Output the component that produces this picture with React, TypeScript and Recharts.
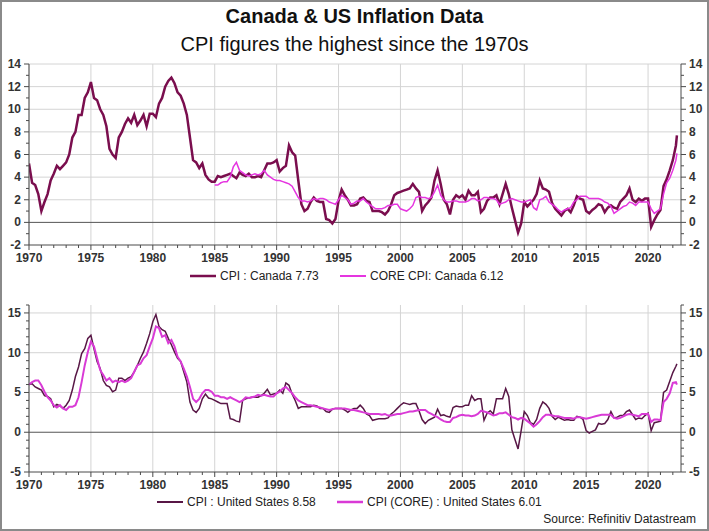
import React from 'react'
import { LineChart, Line, XAxis, YAxis, CartesianGrid, ReferenceLine } from 'recharts'

const FONT = '"Liberation Sans", Arial, sans-serif'

// quarterly readings from 1970 Q1, the last point is May 2022
const START_YEAR = 1970
const LAST_DATE = 2022.33
const X_DOMAIN: [number, number] = [1970, 2022.66]

const yearTicks = Array.from({ length: 53 }, (_, i) => 1970 + i)
const majorYears = [1970, 1975, 1980, 1985, 1990, 1995, 2000, 2005, 2010, 2015, 2020]

const caTicks = [-2, -1, 0, 1, 2, 3, 4, 5, 6, 7, 8, 9, 10, 11, 12, 13, 14]
const caGrid = [2, 4, 6, 8, 10, 12, 14]
const usTicks = [-5, -4, -3, -2, -1, 0, 1, 2, 3, 4, 5, 6, 7, 8, 9, 10, 11, 12, 13, 14, 15, 16]
const usGrid = [5, 10, 15]

const caCpi = [
  5.2, 3.5, 3.3, 2.5, 1.0, 1.8, 2.5, 3.7, 4.3, 5.0, 4.7, 5.0, 5.3, 6.0, 7.5, 8.0,
  9.5, 9.5, 11.0, 11.5, 12.4, 11.0, 10.8, 10.0, 9.5, 8.5, 6.5, 6.0, 5.7, 7.5, 8.0, 8.7,
  9.2, 8.8, 9.5, 8.6, 9.0, 9.5, 8.5, 9.6, 9.6, 9.3, 10.5, 11.0, 12.0, 12.5, 12.8, 12.3,
  11.5, 11.2, 10.5, 9.5, 7.5, 5.5, 5.3, 4.8, 5.2, 4.2, 3.8, 3.6, 3.6, 4.1, 4.0, 4.1,
  4.2, 4.3, 4.1, 3.9, 4.4, 4.2, 4.1, 4.3, 4.0, 4.0, 4.1, 4.0, 4.6, 5.2, 5.2, 5.3,
  5.5, 4.5, 4.8, 5.0, 6.8, 6.2, 5.9, 3.7, 1.6, 1.0, 1.2, 1.8, 2.2, 1.9, 1.8, 1.8,
  0.3, 0.2, -0.1, 0.3, 1.9, 2.9, 2.4, 2.0, 1.5, 1.5, 1.6, 2.1, 2.2, 1.9, 1.8, 1.0,
  1.0, 1.0, 0.9, 0.7, 1.0, 1.6, 2.4, 2.6, 2.7, 2.8, 2.9, 3.0, 3.4, 3.0, 2.7, 1.0,
  1.5, 1.8, 2.2, 3.7, 4.6, 3.4, 2.0, 1.6, 0.7, 2.0, 2.4, 2.2, 2.4, 2.0, 2.8, 2.4,
  2.4, 2.7, 0.9, 1.2, 1.9, 2.2, 2.2, 2.4, 1.6, 2.5, 3.4, 2.5, 1.3, 0.2, -0.9, -0.1,
  1.8, 1.4, 1.7, 2.0, 2.5, 3.7, 3.0, 2.9, 2.7, 1.7, 1.2, 0.9, 0.6, 1.0, 1.2, 0.9,
  1.5, 2.3, 2.1, 2.0, 1.0, 0.8, 1.1, 1.3, 1.6, 1.5, 0.9, 1.3, 1.5, 1.3, 1.2, 1.8,
  2.1, 2.4, 3.0, 2.0, 1.8, 2.1, 1.9, 2.1, 2.1, -0.4, 0.2, 0.7, 1.1, 3.2, 3.8, 4.6,
  5.5, 6.8, 7.7,
]

// core series starts in 1985
const CA_CORE_START = 1985
const caCore = [
  3.3, 3.3, 3.5, 3.6, 3.6, 4.0, 4.9, 5.3, 4.6, 4.4, 4.2, 4.1, 4.2, 4.3, 4.2, 4.3,
  4.6, 4.2, 4.0, 3.8, 3.7, 3.7, 3.6, 3.5, 3.4, 3.2, 2.7, 2.2, 1.9, 1.9, 1.8, 1.9,
  2.1, 2.0, 2.1, 2.1, 2.0, 1.8, 1.7, 1.6, 2.0, 2.4, 2.2, 2.0, 1.6, 1.7, 1.9, 1.9,
  2.1, 1.8, 1.6, 1.4, 1.2, 1.2, 1.2, 1.3, 1.5, 1.5, 1.6, 1.6, 1.2, 1.1, 1.0, 1.2,
  1.5, 2.2, 2.3, 2.2, 2.2, 2.1, 2.2, 2.7, 3.3, 2.4, 2.0, 1.8, 1.8, 1.9, 1.9, 1.8,
  1.8, 1.8, 1.9, 2.1, 2.1, 1.9, 2.0, 2.2, 2.2, 2.1, 2.1, 2.0, 1.6, 1.7, 1.8, 2.0,
  2.1, 2.0, 1.9, 1.8, 1.8, 1.9, 2.0, 1.3, 1.1, 2.0, 2.1, 2.3, 1.8, 1.6, 1.4, 1.1,
  0.9, 1.1, 1.2, 1.3, 1.8, 2.0, 2.3, 2.3, 2.3, 2.1, 2.1, 2.1, 2.1, 2.0, 1.8, 1.7,
  1.4, 0.8, 1.0, 1.2, 1.4, 1.5, 1.8, 1.7, 1.5, 1.8, 1.8, 1.8, 1.8, 1.2, 0.8, 1.0,
  1.2, 2.5, 3.5, 3.9, 4.6, 5.5, 6.1,
]

const usCpi = [
  6.0, 6.1, 5.7, 5.5, 5.3, 4.6, 4.5, 4.2, 3.2, 3.5, 3.3, 3.0, 3.4, 4.0, 5.3, 7.0,
  8.2, 9.9, 10.5, 11.8, 12.2, 10.5, 8.9, 8.0, 6.5, 5.9, 5.7, 5.1, 5.3, 6.8, 6.8, 6.5,
  6.8, 7.0, 7.6, 8.4, 9.3, 10.1, 11.2, 12.4, 13.9, 14.8, 13.3, 12.9, 12.7, 11.8, 11.0, 10.1,
  9.3, 8.9, 7.6, 6.3, 3.8, 2.8, 2.5, 3.0, 4.2, 4.8, 4.3, 4.2, 4.0, 3.8, 3.6, 3.6,
  3.6, 1.7, 1.6, 1.4, 1.3, 4.0, 4.2, 4.3, 4.4, 4.4, 4.4, 4.6, 4.9, 5.4, 4.7, 4.8,
  4.9, 5.3, 4.9, 6.2, 5.9, 4.8, 4.0, 3.0, 3.2, 3.2, 3.2, 3.2, 3.4, 3.3, 3.0, 3.0,
  2.6, 2.5, 2.9, 3.0, 3.0, 3.0, 2.8, 2.5, 2.8, 3.0, 3.0, 3.4, 3.0, 2.3, 2.1, 1.5,
  1.6, 1.7, 1.7, 1.7, 1.8, 2.3, 2.6, 3.0, 3.4, 3.7, 3.6, 3.5, 3.6, 3.6, 2.7, 1.6,
  1.1, 1.5, 1.7, 1.9, 2.9, 2.1, 2.2, 2.0, 1.9, 3.1, 3.3, 3.2, 3.2, 3.4, 3.4, 4.6,
  4.0, 4.2, 4.2, 1.5, 2.4, 2.7, 2.3, 4.2, 4.2, 4.2, 5.5, 4.5, 0.3, -0.9, -2.1, 0.2,
  2.6, 2.1, 1.2, 1.0, 1.6, 3.0, 3.8, 3.5, 3.0, 2.0, 1.6, 1.9, 1.7, 1.5, 1.6, 1.5,
  1.5, 2.0, 1.9, 1.6, 0.2, -0.1, 0.1, 0.3, 1.1, 1.0, 1.1, 1.6, 2.6, 1.8, 1.9, 2.1,
  2.1, 2.6, 2.8, 2.2, 1.6, 1.8, 1.7, 2.1, 2.4, 0.2, 1.2, 1.3, 1.4, 5.0, 5.3, 6.4,
  7.5, 8.3, 8.6,
]

const usCore = [
  6.0, 6.3, 6.5, 6.5, 5.9, 5.1, 4.4, 4.0, 3.4, 3.1, 3.4, 3.0, 2.8, 3.2, 3.2, 3.4,
  4.4, 6.3, 8.4, 10.1, 11.4, 10.8, 9.3, 7.8, 7.2, 6.5, 6.8, 6.3, 6.5, 6.3, 6.5, 6.3,
  6.5, 6.8, 7.6, 8.4, 8.6, 9.3, 9.7, 10.8, 11.8, 13.3, 13.1, 12.0, 12.2, 11.2, 11.6, 10.8,
  9.5, 8.9, 8.0, 7.0, 5.7, 4.2, 3.8, 4.2, 4.9, 5.3, 5.3, 5.1, 4.6, 4.6, 4.4, 4.4,
  4.2, 4.4, 4.2, 4.0, 3.8, 4.0, 4.4, 4.3, 4.4, 4.5, 4.7, 4.6, 4.7, 4.6, 4.5, 4.5,
  4.9, 5.1, 5.5, 5.7, 5.3, 4.9, 4.4, 4.0, 3.8, 3.6, 3.4, 3.4, 3.3, 3.2, 3.1, 3.0,
  2.9, 2.8, 2.9, 3.0, 3.0, 3.0, 3.0, 2.9, 2.8, 2.8, 2.7, 2.6, 2.5, 2.4, 2.3, 2.3,
  2.3, 2.3, 2.2, 2.3, 2.1, 2.1, 2.2, 2.3, 2.3, 2.4, 2.5, 2.6, 2.6, 2.7, 2.8, 2.8,
  2.8, 2.5, 2.3, 2.1, 1.9, 1.6, 1.4, 1.3, 1.3, 1.8, 1.9, 2.1, 2.2, 2.1, 2.1, 2.0,
  2.1, 2.3, 2.7, 2.6, 2.5, 2.3, 2.1, 2.2, 2.4, 2.4, 2.5, 2.2, 1.9, 1.8, 1.6, 1.8,
  1.7, 1.4, 1.1, 0.7, 1.0, 1.4, 1.9, 2.2, 2.2, 2.1, 2.0, 2.0, 1.9, 1.8, 1.8, 1.8,
  1.7, 1.9, 1.9, 1.8, 1.7, 1.8, 1.9, 2.0, 2.1, 2.2, 2.2, 2.2, 2.2, 1.8, 1.7, 1.8,
  2.0, 2.2, 2.3, 2.2, 2.1, 2.0, 2.3, 2.3, 2.3, 1.3, 1.6, 1.6, 1.5, 3.8, 4.2, 4.9,
  6.2, 6.3, 6.0,
]

const dateAt = (i: number, n: number) => (i === n - 1 ? LAST_DATE : START_YEAR + i / 4)

const caPad = (CA_CORE_START - START_YEAR) * 4
const caRows = caCpi.map((v, i) => ({
  t: dateAt(i, caCpi.length),
  cpi: v,
  core: i >= caPad ? caCore[i - caPad] : null,
}))
const usRows = usCpi.map((v, i) => ({ t: dateAt(i, usCpi.length), cpi: v, core: usCore[i] }))

const AXIS = '#4a4a4a'
const labelStyle = { fontFamily: FONT, fontSize: 12, fontWeight: 700, fill: '#333' }

function XTick(props: any) {
  const { x, y, payload } = props
  const major = payload.value % 5 === 0
  return (
    <g>
      <line x1={x} y1={y} x2={x} y2={y + (major ? 5 : 3)} stroke={AXIS} />
      {major && (
        <text x={x} y={y + 17} textAnchor="middle" {...labelStyle}>
          {payload.value}
        </text>
      )}
    </g>
  )
}

function makeYTick(step: number, side: 'left' | 'right') {
  return function YTick(props: any) {
    const { x, y, payload } = props
    const major = payload.value % step === 0
    const dir = side === 'left' ? -1 : 1
    const len = major ? 5 : 3
    return (
      <g>
        <line x1={x} y1={y} x2={x + dir * len} y2={y} stroke={AXIS} />
        {major && (
          <text
            x={x + dir * 8}
            y={y + 4}
            textAnchor={side === 'left' ? 'end' : 'start'}
            {...labelStyle}
          >
            {payload.value}
          </text>
        )}
      </g>
    )
  }
}

interface PanelProps {
  rows: { t: number; cpi: number; core: number | null }[]
  height: number
  top: number
  yDomain: [number, number]
  yTicks: number[]
  grid: number[]
  step: number
  cpiColor: string
  coreColor: string
  cpiWidth: number
  coreWidth: number
}

function Panel(p: PanelProps) {
  const yAxisCommon = {
    type: 'number' as const,
    domain: p.yDomain,
    ticks: p.yTicks,
    interval: 0,
    tickSize: 0,
    tickMargin: 0,
    tickLine: false,
    axisLine: { stroke: AXIS },
    allowDataOverflow: true,
  }
  return (
    <LineChart
      width={709}
      height={p.height}
      data={p.rows}
      margin={{ top: p.top, right: 0, bottom: 0, left: 0 }}
    >
      <CartesianGrid
        stroke="#d4d4d4"
        yAxisId="left"
        verticalValues={majorYears}
        horizontalValues={p.grid}
      />
      <XAxis
        dataKey="t"
        type="number"
        domain={X_DOMAIN}
        ticks={yearTicks}
        interval={0}
        tickSize={0}
        tickMargin={0}
        tickLine={false}
        axisLine={{ stroke: AXIS }}
        tick={<XTick />}
        height={25}
        allowDataOverflow
      />
      <YAxis yAxisId="left" width={29} tick={makeYTick(p.step, 'left')} {...yAxisCommon} />
      <YAxis
        yAxisId="right"
        orientation="right"
        width={28}
        tick={makeYTick(p.step, 'right')}
        {...yAxisCommon}
      />
      <ReferenceLine yAxisId="left" y={0} stroke="#555" strokeWidth={1} />
      <Line
        yAxisId="left"
        dataKey="cpi"
        stroke={p.cpiColor}
        strokeWidth={p.cpiWidth}
        dot={false}
        isAnimationActive={false}
      />
      <Line
        yAxisId="left"
        dataKey="core"
        stroke={p.coreColor}
        strokeWidth={p.coreWidth}
        dot={false}
        isAnimationActive={false}
      />
    </LineChart>
  )
}

function LegendItem({ color, width, label, left, top }: any) {
  return (
    <div
      style={{
        position: 'absolute',
        left,
        top,
        display: 'flex',
        alignItems: 'center',
        fontFamily: FONT,
        fontSize: 12,
        color: '#222',
        whiteSpace: 'nowrap',
      }}
    >
      <svg width={26} height={8}>
        <line x1={0} y1={4} x2={26} y2={4} stroke={color} strokeWidth={width} />
      </svg>
      <span style={{ marginLeft: 4 }}>{label}</span>
    </div>
  )
}

export default function App() {
  return (
    <div
      style={{
        position: 'absolute',
        left: 0,
        top: 0,
        width: 709,
        height: 531,
        background: '#fff',
        fontFamily: FONT,
      }}
    >
      <div
        style={{
          position: 'absolute',
          top: 5,
          width: 709,
          textAlign: 'center',
          fontSize: 20,
          fontWeight: 700,
          color: '#111',
        }}
      >
        Canada &amp; US Inflation Data
      </div>
      <div
        style={{ position: 'absolute', top: 33, width: 709, textAlign: 'center', fontSize: 20, color: '#111' }}
      >
        CPI figures the highest since the 1970s
      </div>

      <div style={{ position: 'absolute', left: 0, top: 0 }}>
        <Panel
          rows={caRows}
          height={270}
          top={64}
          yDomain={[-2, 14]}
          yTicks={caTicks}
          grid={caGrid}
          step={2}
          cpiColor="#7a0e4e"
          coreColor="#e535e0"
          cpiWidth={2.5}
          coreWidth={1.5}
        />
      </div>
      <LegendItem color="#7a0e4e" width={2.5} label="CPI : Canada 7.73" left={190} top={269} />
      <LegendItem color="#e535e0" width={2} label="CORE CPI: Canada 6.12" left={340} top={269} />

      <div style={{ position: 'absolute', left: 0, top: 290 }}>
        <Panel
          rows={usRows}
          height={207}
          top={15}
          yDomain={[-5, 16]}
          yTicks={usTicks}
          grid={usGrid}
          step={5}
          cpiColor="#581746"
          coreColor="#d93ad6"
          cpiWidth={1.5}
          coreWidth={2}
        />
      </div>
      <LegendItem color="#581746" width={2} label="CPI : United States 8.58" left={157} top={495} />
      <LegendItem color="#d93ad6" width={2.5} label="CPI (CORE) : United States 6.01" left={337} top={495} />

      <div style={{ position: 'absolute', right: 13, top: 512, fontSize: 12, color: '#222' }}>
        Source: Refinitiv Datastream
      </div>

      <div
        style={{
          position: 'absolute',
          left: 0,
          top: 0,
          width: 709,
          height: 531,
          border: '2px solid #8a8a8a',
          boxSizing: 'border-box',
          pointerEvents: 'none',
        }}
      />
    </div>
  )
}
